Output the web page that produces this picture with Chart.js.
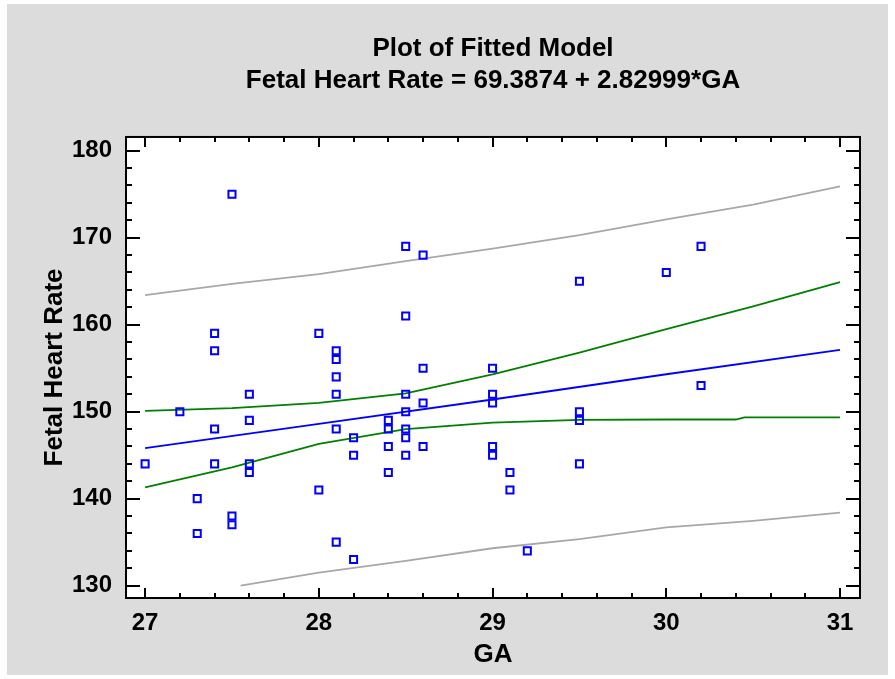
<!DOCTYPE html>
<html>
<head>
<meta charset="utf-8">
<script src="https://cdn.jsdelivr.net/npm/chart.js@4.4.1/dist/chart.umd.min.js"></script>
<style>
    html, body { margin: 0; padding: 0; background: #ffffff; }
    #wrap { width: 895px; height: 679px; }
</style>
</head>
<body>
<div id="wrap"><canvas id="fit-chart" width="895" height="679"></canvas></div>
<script>
// observed data: GA vs fetal heart rate
const gaValues = [27.0, 27.2, 27.3, 27.3, 27.4, 27.4, 27.4, 27.4, 27.5, 27.5, 27.5,
    27.6, 27.6, 27.6, 27.6, 28.0, 28.0, 28.1, 28.1, 28.1, 28.1, 28.1, 28.1,
    28.2, 28.2, 28.2, 28.4, 28.4, 28.4, 28.4, 28.5, 28.5, 28.5, 28.5, 28.5, 28.5, 28.5,
    28.6, 28.6, 28.6, 28.6, 29.0, 29.0, 29.0, 29.0, 29.0, 29.1, 29.1, 29.2,
    29.5, 29.5, 29.5, 29.5, 30.0, 30.2, 30.2];
const rateValues = [144, 150, 140, 136, 159, 157, 148, 144, 175, 138, 137,
    152, 149, 144, 143, 159, 141, 157, 156, 154, 152, 148, 135,
    147, 145, 133, 149, 148, 146, 143, 169, 161, 152, 150, 148, 147, 145,
    168, 155, 151, 146, 155, 152, 151, 146, 145, 143, 141, 134,
    165, 150, 149, 144, 166, 169, 153];

// fitted line
const fitX = [27, 28, 29, 30, 31];
const fitY = [145.8, 148.6, 151.4, 154.3, 157.1];

// confidence limits (green)
const confUpperX = [27, 27.5, 28, 28.5, 29, 29.5, 30, 30.5, 31];
const confUpperY = [150.1, 150.4, 151.0, 152.1, 154.3, 156.8, 159.5, 162.1, 164.9];
const confLowerX = [27, 27.5, 28, 28.5, 29, 29.5, 30, 30.4, 30.45, 31];
const confLowerY = [141.3, 143.6, 146.3, 148.0, 148.75, 149.05, 149.1, 149.1, 149.35, 149.35];

// prediction limits (gray)
const predUpperX = [27, 27.5, 28, 28.5, 29, 29.5, 30, 30.5, 31];
const predUpperY = [163.4, 164.7, 165.8, 167.3, 168.75, 170.3, 172.1, 173.8, 175.9];
const predLowerX = [27.55, 28, 28.5, 29, 29.5, 30, 30.5, 31];
const predLowerY = [130.0, 131.5, 132.85, 134.3, 135.35, 136.7, 137.45, 138.4];

const xTicks = [27, 28, 29, 30, 31];
const yTicks = [130, 140, 150, 160, 170, 180];

const FONT = '"Liberation Sans", Arial, sans-serif';

function toPoints(xs, ys) {
    return xs.map((x, i) => ({ x: x, y: ys[i] }));
}

function lineSet(xs, ys, color) {
    return {
        type: 'line',
        data: toPoints(xs, ys),
        borderColor: color,
        borderWidth: 1.8,
        pointRadius: 0,
        fill: false,
        tension: 0,
        order: 2
    };
}

// gray panel + white plot area
const panelPlugin = {
    id: 'panel',
    beforeDraw(chart) {
        const ctx = chart.ctx;
        const a = chart.chartArea;
        ctx.save();
        ctx.fillStyle = '#ffffff';
        ctx.fillRect(0, 0, chart.width, chart.height);
        ctx.fillStyle = '#dcdcdc';
        ctx.fillRect(7, 4, chart.width - 14, chart.height - 8);
        ctx.fillStyle = '#ffffff';
        ctx.fillRect(a.left, a.top, a.right - a.left, a.bottom - a.top);
        ctx.restore();
    }
};

// frame with inward ticks on all four sides
const framePlugin = {
    id: 'frame',
    afterDatasetsDraw(chart) {
        const ctx = chart.ctx;
        const a = chart.chartArea;
        const xs = chart.scales.x;
        const ys = chart.scales.y;
        ctx.save();
        ctx.strokeStyle = '#000000';
        ctx.lineWidth = 2;
        ctx.beginPath();
        // x ticks every 0.2, majors on whole numbers
        for (let i = 0; i <= 20; i++) {
            const v = 27 + i * 0.2;
            const px = Math.round(xs.getPixelForValue(v));
            const len = i % 5 === 0 ? 10 : 5;
            ctx.moveTo(px, a.bottom); ctx.lineTo(px, a.bottom - len);
            ctx.moveTo(px, a.top); ctx.lineTo(px, a.top + len);
        }
        // y ticks every 2, majors every 10
        for (let v = 130; v <= 180; v += 2) {
            const py = Math.round(ys.getPixelForValue(v));
            const len = (v % 10 === 0) ? 14 : 6;
            ctx.moveTo(a.left, py); ctx.lineTo(a.left + len, py);
            ctx.moveTo(a.right, py); ctx.lineTo(a.right - len, py);
        }
        ctx.stroke();
        ctx.strokeRect(a.left, a.top, a.right - a.left, a.bottom - a.top);
        ctx.restore();
    }
};

function createFitChart() {
    const canvas = document.getElementById('fit-chart');

    const datasets = [
        {
            type: 'scatter',
            data: toPoints(gaValues, rateValues),
            pointStyle: 'rect',
            pointRadius: 5,
            pointBorderWidth: 2,
            pointBorderColor: '#0000ff',
            pointBackgroundColor: 'rgba(255,255,255,0)',
            order: 1
        },
        lineSet(fitX, fitY, '#0000ff'),
        lineSet(confUpperX, confUpperY, '#008000'),
        lineSet(confLowerX, confLowerY, '#008000'),
        lineSet(predUpperX, predUpperY, '#a8a8a8'),
        lineSet(predLowerX, predLowerY, '#a8a8a8')
    ];

    window.fitChart = new Chart(canvas, {
        type: 'scatter',
        data: { datasets: datasets },
        plugins: [panelPlugin, framePlugin],
        options: {
            responsive: false,
            animation: false,
            devicePixelRatio: 1,
            layout: { padding: { left: 0, right: 35, top: 0, bottom: 0 } },
            plugins: {
                legend: { display: false },
                tooltip: { enabled: false },
                title: {
                    display: true,
                    fullSize: false,
                    text: ['Plot of Fitted Model', 'Fetal Heart Rate = 69.3874 + 2.82999*GA'],
                    color: '#000000',
                    font: { family: FONT, size: 26, weight: 'bold', lineHeight: 1.23 },
                    padding: { top: 33, bottom: 40 }
                }
            },
            scales: {
                x: {
                    type: 'linear',
                    min: 26.89,
                    max: 31.115,
                    afterBuildTicks: (s) => { s.ticks = xTicks.map(v => ({ value: v })); },
                    afterFit: (s) => { s.height = 81; },
                    grid: { display: false, drawTicks: false },
                    border: { display: false },
                    ticks: {
                        color: '#000000',
                        padding: 11,
                        maxRotation: 0,
                        font: { family: FONT, size: 24, weight: 'bold' }
                    },
                    title: {
                        display: true,
                        text: 'GA',
                        color: '#000000',
                        font: { family: FONT, size: 26, weight: 'bold', lineHeight: 1.2 },
                        padding: { top: 0, bottom: 9 }
                    }
                },
                y: {
                    type: 'linear',
                    min: 128.58,
                    max: 181.58,
                    afterBuildTicks: (s) => { s.ticks = yTicks.map(v => ({ value: v })); },
                    afterFit: (s) => { s.width = 126; },
                    grid: { display: false, drawTicks: false },
                    border: { display: false },
                    ticks: {
                        color: '#000000',
                        padding: 14,
                        font: { family: FONT, size: 24, weight: 'bold' }
                    },
                    title: {
                        display: true,
                        text: 'Fetal Heart Rate',
                        color: '#000000',
                        font: { family: FONT, size: 26, weight: 'bold', lineHeight: 1.2 },
                        padding: { top: 39, bottom: 0 }
                    }
                }
            }
        }
    });
}

createFitChart();
</script>
</body>
</html>
